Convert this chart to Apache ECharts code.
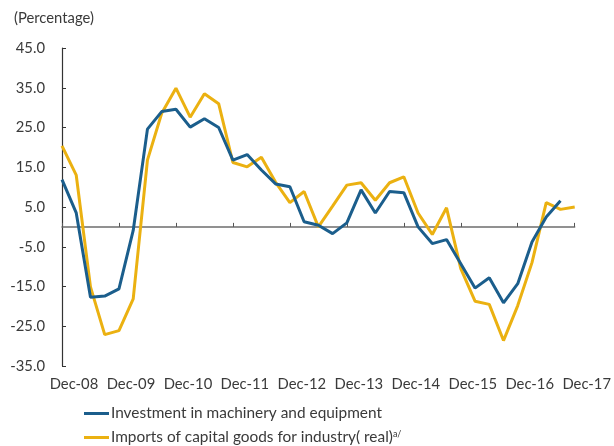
<!DOCTYPE html>
<html>
<head>
<meta charset="utf-8">
<script src="https://cdn.jsdelivr.net/npm/echarts@6/dist/echarts.min.js"></script>
<style>
  html, body { margin: 0; padding: 0; background: #fff; }
  #chart { width: 614px; height: 446px; }
</style>
</head>
<body>
<div id="chart"></div>
<script>
// quarterly, Dec-08 .. Dec-17
const quarters = [
  'Dec-08', 'Mar-09', 'Jun-09', 'Sep-09', 'Dec-09', 'Mar-10', 'Jun-10', 'Sep-10',
  'Dec-10', 'Mar-11', 'Jun-11', 'Sep-11', 'Dec-11', 'Mar-12', 'Jun-12', 'Sep-12',
  'Dec-12', 'Mar-13', 'Jun-13', 'Sep-13', 'Dec-13', 'Mar-14', 'Jun-14', 'Sep-14',
  'Dec-14', 'Mar-15', 'Jun-15', 'Sep-15', 'Dec-15', 'Mar-16', 'Jun-16', 'Sep-16',
  'Dec-16', 'Mar-17', 'Jun-17', 'Sep-17', 'Dec-17'
];
const investment = [
  11.9, 3.5, -17.7, -17.4, -15.6, -0.9, 24.6, 29.0,
  29.6, 25.1, 27.2, 25.0, 16.8, 18.2, 14.3, 10.8,
  10.1, 1.3, 0.4, -1.7, 1.0, 9.3, 3.5, 8.9,
  8.6, 0.0, -4.2, -3.2, -9.3, -15.4, -12.8, -19.1,
  -14.3, -3.8, 2.5, 6.6, null
];
const imports = [
  20.4, 13.0, -15.1, -27.1, -26.1, -18.1, 16.8, 28.6,
  34.9, 27.6, 33.5, 31.0, 16.2, 15.1, 17.5, 11.2,
  6.1, 8.9, 0.0, 5.2, 10.5, 11.1, 6.7, 11.1,
  12.6, 3.5, -1.9, 4.8, -10.5, -18.7, -19.5, -28.6,
  -19.8, -9.0, 6.1, 4.4, 5.0
];
const yTicks = [-35, -25, -15, -5, 5, 15, 25, 35, 45];

const nameInv = 'Investment in machinery and equipment';
const nameImp = 'Imports of capital goods for industry( real)';
const font = 'Lato';
const textColor = '#3a3a3a';

let chart = echarts.init(document.getElementById('chart'));
let everyYear = (i) => i % 4 === 0;

let legendItem = (name, top) => ({
  left: 79,
  top: top,
  itemWidth: 25,
  itemHeight: 3,
  icon: 'rect',
  textStyle: {
    fontFamily: font, fontSize: 15.4, color: textColor,
    padding: [0, 0, 0, -3],
    rich: {
      n: { fontFamily: font, fontSize: 15.4, color: textColor },
      s: { fontFamily: font, fontSize: 9, color: textColor, padding: [0, 0, 6, 0] }
    }
  },
  formatter: (n) => n === nameImp ? '{n|' + n + '}{s|a/}' : n,
  data: [name]
});

chart.setOption({
  animation: false,
  title: {
    text: '(Percentage)',
    left: 9,
    top: 6,
    textStyle: { fontFamily: font, fontSize: 14.8, fontWeight: 'normal', color: textColor }
  },
  grid: { left: 62, top: 48, width: 521, height: 318 },
  legend: [legendItem(nameInv, 401), legendItem(nameImp, 425)],
  xAxis: [
    {
      type: 'category',
      data: quarters,
      boundaryGap: false,
      axisLine: { onZero: true, lineStyle: { color: '#6e6e6e', width: 1.5 } },
      axisTick: { inside: true, length: 4, interval: everyYear, lineStyle: { color: '#555' } },
      axisLabel: { show: false },
      splitLine: { show: false }
    },
    {
      type: 'category',
      data: quarters,
      boundaryGap: false,
      position: 'bottom',
      axisLine: { show: false, onZero: false },
      axisTick: { show: false },
      axisLabel: {
        interval: everyYear,
        margin: 11,
        padding: [0, 0, 0, 24],
        fontFamily: font, fontSize: 14.8, color: textColor
      },
      splitLine: { show: false }
    }
  ],
  yAxis: {
    type: 'value',
    min: -35,
    max: 45,
    axisLine: { show: true, lineStyle: { color: '#333', width: 1.2 } },
    axisTick: { show: true, inside: true, length: 4, customValues: yTicks, lineStyle: { color: '#333' } },
    axisLabel: {
      customValues: yTicks,
      margin: 17,
      formatter: (v) => v.toFixed(1),
      fontFamily: font, fontSize: 14.8, color: textColor
    },
    splitLine: { show: false }
  },
  series: [
    {
      name: nameInv,
      type: 'line',
      data: investment,
      showSymbol: false,
      color: '#1b5e8c',
      lineStyle: { width: 3 },
      z: 3
    },
    {
      name: nameImp,
      type: 'line',
      data: imports,
      showSymbol: false,
      color: '#ebb111',
      lineStyle: { width: 3 },
      z: 2
    }
  ]
});
</script>
</body>
</html>
